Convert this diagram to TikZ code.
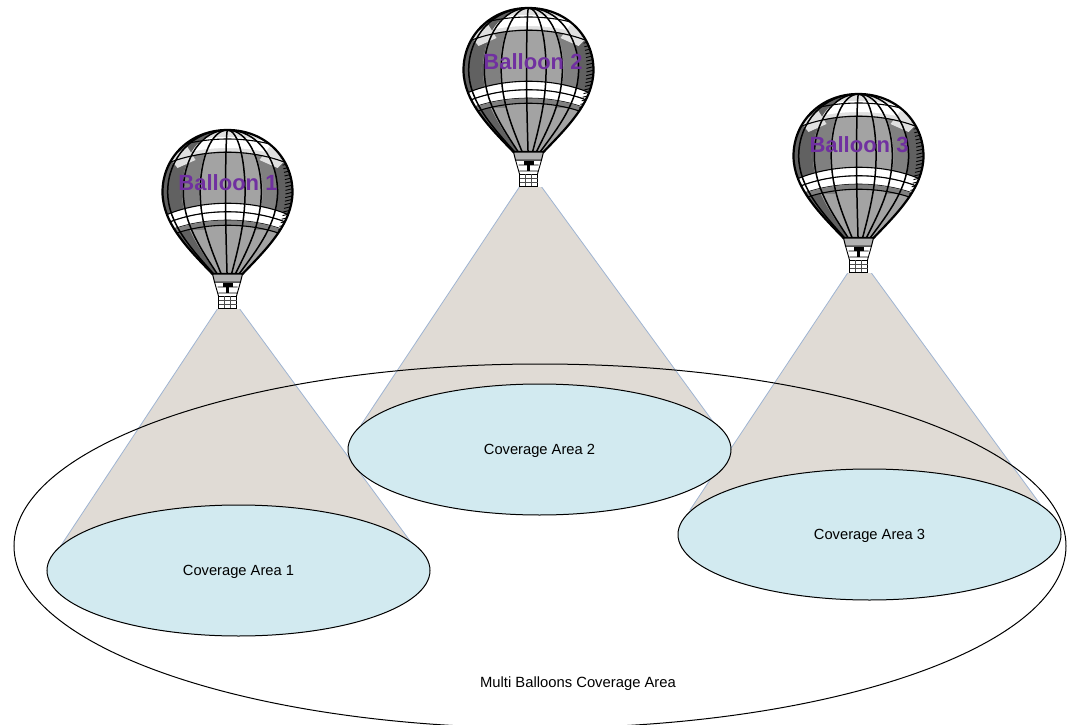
\documentclass[tikz,border=0pt]{standalone}
\usepackage{fontspec}
\usetikzlibrary{shapes.geometric}
\setmainfont{Liberation Sans}
\definecolor{conefill}{HTML}{E0DBD5}
\definecolor{coneline}{HTML}{9FB4D2}
\definecolor{areafill}{HTML}{D2EAF0}
\definecolor{labelpurple}{HTML}{7030A0}
\newcommand{\mer}[1]{(#1*0,0) .. controls (#1*38,0) and (#1*65,28) .. (#1*65,62) .. controls (#1*65,94) and (#1*38,120) .. (#1*15,144)}
\newcommand{\merback}[1]{-- (#1*15,144) .. controls (#1*38,120) and (#1*65,94) .. (#1*65,62) .. controls (#1*65,28) and (#1*38,0) .. (#1*0,0)}
\newcommand{\gore}[3]{\fill[#3] \mer{#1} \merback{#2} -- cycle;}
\newcommand{\bandcurve}[2]{\draw[black,line width=1.1pt] (-70,#2) .. controls (-30,#1) and (30,#1) .. (70,#2);}
\newcommand{\bandfill}[5]{\fill[#5] (-70,#2) .. controls (-30,#1) and (30,#1) .. (70,#2) -- (70,#4) .. controls (30,#3) and (-30,#3) .. (-70,#4) -- cycle;}
\tikzset{
  x=1pt,y=-1pt,
  cone/.style={fill=conefill,draw=coneline,line width=.8pt},
  area/.style={ellipse,draw=black,line width=1pt,fill=areafill,minimum width=383pt,minimum height=131pt,inner sep=0pt,text height=11.5pt,text depth=2pt,font=\fontsize{14.7}{16}\selectfont},
  whole/.style={ellipse,draw=black,line width=1pt,minimum width=1052pt,minimum height=364pt,inner sep=0pt},
  plain/.style={inner sep=0pt,font=\fontsize{14.8}{16}\selectfont},
  blabel/.style={inner sep=0pt,text=labelpurple,font=\fontsize{22}{24}\selectfont\bfseries},
  pics/balloonpic/.style={code={
    \fill[white] (-22,140) rectangle (22,179);
    \begin{scope}
      \clip (0,0) .. controls (38,0) and (65,28) .. (65,62) .. controls (65,94) and (38,120) .. (15,144) -- (-15,144) .. controls (-38,120) and (-65,94) .. (-65,62) .. controls (-65,28) and (-38,0) .. (0,0) -- cycle;
      \fill[gray!72] (-70,-2) rectangle (70,150);
      \gore{-1.05}{-.70}{black!62}
      \gore{-.70}{-.44}{black!50}
      \gore{.54}{.78}{black!50}
      \gore{.78}{1.05}{black!62}
      % lighter lower part of the envelope
      \fill[gray!72] (-70,100) rectangle (70,150);
      \gore{-1.05}{-.72}{black!50}
      % upper cap
      \fill[black!12] (-70,40) .. controls (-30,15) and (30,15) .. (70,40) -- (70,-2) -- (-70,-2) -- cycle;
      \bandfill{2}{22}{13}{33}{white}
      \gore{-1.05}{-.72}{black!62}
      \fill[black!12] (-58,28) -- (-40,17) -- (-32,30) -- (-50,38) -- cycle;
      \fill[black!12] (60,28) -- (42,17) -- (32,30) -- (50,38) -- cycle;
      \bandcurve{17}{38}
      \bandcurve{4}{24}
      % white bands
      \bandfill{68}{89}{76}{97}{white}
      \bandfill{77}{98}{85}{106}{white}
      \bandcurve{68}{89}
      \bandcurve{76.5}{97.5}
      \bandcurve{85}{106}
      \bandfill{85}{106}{90}{111}{black!50}
      \bandcurve{90}{111}
      % hatching on the right edge
      \foreach \a in {0,1,...,24}{
        \draw[black,line width=.9pt] ({58-abs(\a-9)*abs(\a-9)*.06},{28+\a*3.6}) -- ({70-abs(\a-9)*abs(\a-9)*.06},{25+\a*3.6});
      }
    \end{scope}
    \foreach \f in {-.92,-.68,-.42,-.03,.27,.52,.77}{
      \draw[black,line width=1.5pt] \mer{\f};
    }
    \draw[black,line width=2.2pt] (0,0) .. controls (38,0) and (65,28) .. (65,62) .. controls (65,94) and (38,120) .. (15,144) -- (-15,144) .. controls (-38,120) and (-65,94) .. (-65,62) .. controls (-65,28) and (-38,0) .. (0,0) -- cycle;
    % neck and gondola
    \draw[black,fill=gray!60,line width=1pt] (-15,144) -- (15,144) -- (13,152) -- (-13,152) -- cycle;
    \draw[black,line width=.9pt] (-13,152) -- (-9,166) (13,152) -- (9,166) (-10,157) -- (10,157) (-9,163) -- (9,163);
    \fill[black] (-5,153) rectangle (5,157);
    \fill[black] (-1.2,157) rectangle (1.2,163);
    \draw[black,line width=.8pt,fill=white] (-9,166) rectangle (9,178);
    \draw[black!70,line width=.7pt] (-9,170) -- (9,170) (-9,174) -- (9,174) (-3,166) -- (-3,178) (3,166) -- (3,178);
  }}
}
\begin{document}
\begin{tikzpicture}
\useasboundingbox (0,0) rectangle (1069,725);
% beams
\coordinate (apexone) at (228,293);
\coordinate (leftone) at (60,547);
\coordinate (rightone) at (413,545);
\coordinate (apextwo) at (530,171);
\coordinate (lefttwo) at (361,425);
\coordinate (righttwo) at (714,423);
\coordinate (apexthree) at (859,256);
\coordinate (leftthree) at (690,510);
\coordinate (rightthree) at (1043,508);
\draw[cone] (apexone) -- (leftone) -- (rightone) -- cycle;
\draw[cone] (apextwo) -- (lefttwo) -- (righttwo) -- cycle;
\draw[cone] (apexthree) -- (leftthree) -- (rightthree) -- cycle;
% whole area
\node[whole] (wholearea) at (540,546) {};
\node[plain] (wholetext) at (578,684) {Multi Balloons Coverage Area};
% coverage areas
\node[area] (areaone) at (238.5,570.5) {Coverage Area 1};
\node[area] (areatwo) at (539.5,449.5) {Coverage Area 2};
\node[area] (areathree) at (869.5,534.5) {Coverage Area 3};
% balloons
\pic at (227.5,130) {balloonpic};
\pic at (528.5,8) {balloonpic};
\pic at (858.5,94) {balloonpic};
\node[blabel] (balloonone) at (228,183) {Balloon 1};
\node[blabel] (balloontwo) at (533,62) {Balloon 2};
\node[blabel] (balloonthree) at (859,145) {Balloon 3};
\end{tikzpicture}
\end{document}
